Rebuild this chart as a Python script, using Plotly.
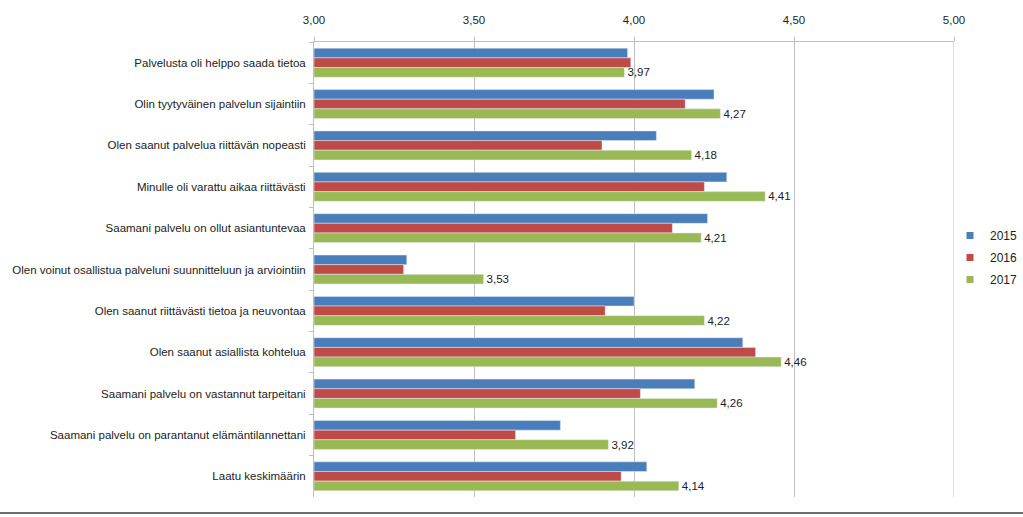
import plotly.graph_objects as go

categories = [
    "Palvelusta oli helppo saada tietoa",
    "Olin tyytyväinen palvelun sijaintiin",
    "Olen saanut palvelua riittävän nopeasti",
    "Minulle oli varattu aikaa riittävästi",
    "Saamani palvelu on ollut asiantuntevaa",
    "Olen voinut osallistua palveluni suunnitteluun ja arviointiin",
    "Olen saanut riittävästi tietoa ja neuvontaa",
    "Olen saanut asiallista kohtelua",
    "Saamani palvelu on vastannut tarpeitani",
    "Saamani palvelu on parantanut elämäntilannettani",
    "Laatu keskimäärin",
]
years = ["2015", "2016", "2017"]
v2015 = [3.98, 4.25, 4.07, 4.29, 4.23, 3.29, 4.00, 4.34, 4.19, 3.77, 4.04]
v2016 = [3.99, 4.16, 3.90, 4.22, 4.12, 3.28, 3.91, 4.38, 4.02, 3.63, 3.96]
v2017 = [3.97, 4.27, 4.18, 4.41, 4.21, 3.53, 4.22, 4.46, 4.26, 3.92, 4.14]
tickvals = [3.0, 3.5, 4.0, 4.5, 5.0]
ticktext = ["3,00", "3,50", "4,00", "4,50", "5,00"]
colors = ["#4a7ebb", "#be4b48", "#98b954"]

font_family = "Liberation Sans, Arial, sans-serif"
txt_color = "#222222"
grid_color = "#bfbfbf"
base = 3.0

fig = go.Figure()
for i, (name, vals) in enumerate(zip(years, [v2015, v2016, v2017])):
    kw = {}
    if name == "2017":
        kw = dict(text=[f"{v:.2f}".replace(".", ",") for v in vals],
                  textposition="outside", cliponaxis=False, constraintext="none",
                  textfont=dict(size=11.5, color=txt_color, family=font_family))
    fig.add_trace(go.Bar(name=name, y=categories, x=[v - base for v in vals], base=base,
                         orientation="h", marker_color=colors[i], showlegend=False, **kw))
# legend entries with small square symbols
for i, name in enumerate(years):
    fig.add_trace(go.Scatter(name=name, x=[None], y=[None], mode="markers",
                             marker=dict(symbol="square", size=7, color=colors[i]),
                             legendgroup=name, showlegend=True))

W, H = 1023, 517
L, R, T, B = 314, 0, 42, 20
PW, PH = W - L - R, H - T - B
plot_w = 954 - L
fig.update_layout(
    width=W, height=H,
    margin=dict(l=L, r=R, t=T, b=B, autoexpand=False),
    paper_bgcolor="white", plot_bgcolor="white",
    barmode="group", bargap=0.3, bargroupgap=0,
    font=dict(family=font_family, size=11.5, color=txt_color),
    showlegend=True,
    legend=dict(x=(950 - L) / PW, y=(H - B - 221) / PH, xanchor="left", yanchor="top",
                font=dict(size=12, color=txt_color), tracegroupgap=3,
                itemwidth=30, bgcolor="rgba(0,0,0,0)"),
    xaxis=dict(range=[3.0, 5.0], domain=[0, plot_w / PW], side="top",
               tickvals=tickvals, ticktext=ticktext,
               showgrid=True, gridcolor=grid_color, gridwidth=1,
               showline=True, linecolor=grid_color, ticks="outside", ticklen=4,
               tickcolor=grid_color, zeroline=False, ticklabelstandoff=8,
               tickfont=dict(size=11.5, color=txt_color)),
    yaxis=dict(autorange="reversed", showline=True, linecolor=grid_color,
               ticks="outside", ticklen=4, tickcolor=grid_color, tickson="boundaries",
               showgrid=False, ticklabelstandoff=5, automargin=False,
               tickfont=dict(size=11.5, color=txt_color)),
    shapes=[
        # gridline at the upper end of the value axis (plot edge)
        dict(type="line", xref="x", yref="paper", x0=tickvals[-1], x1=tickvals[-1],
             y0=0, y1=1, line=dict(color=grid_color, width=1), layer="below"),
        # dark frame line at the bottom of the picture
        dict(type="line", xref="paper", yref="paper", x0=-L / PW, x1=1.0,
             y0=-(513 - (H - B)) / PH, y1=-(513 - (H - B)) / PH,
             line=dict(color="#6e6e6e", width=2)),
    ],
)

fig.write_html("out.html", config={"displayModeBar": False},
               post_script="document.body.style.margin='0';")
